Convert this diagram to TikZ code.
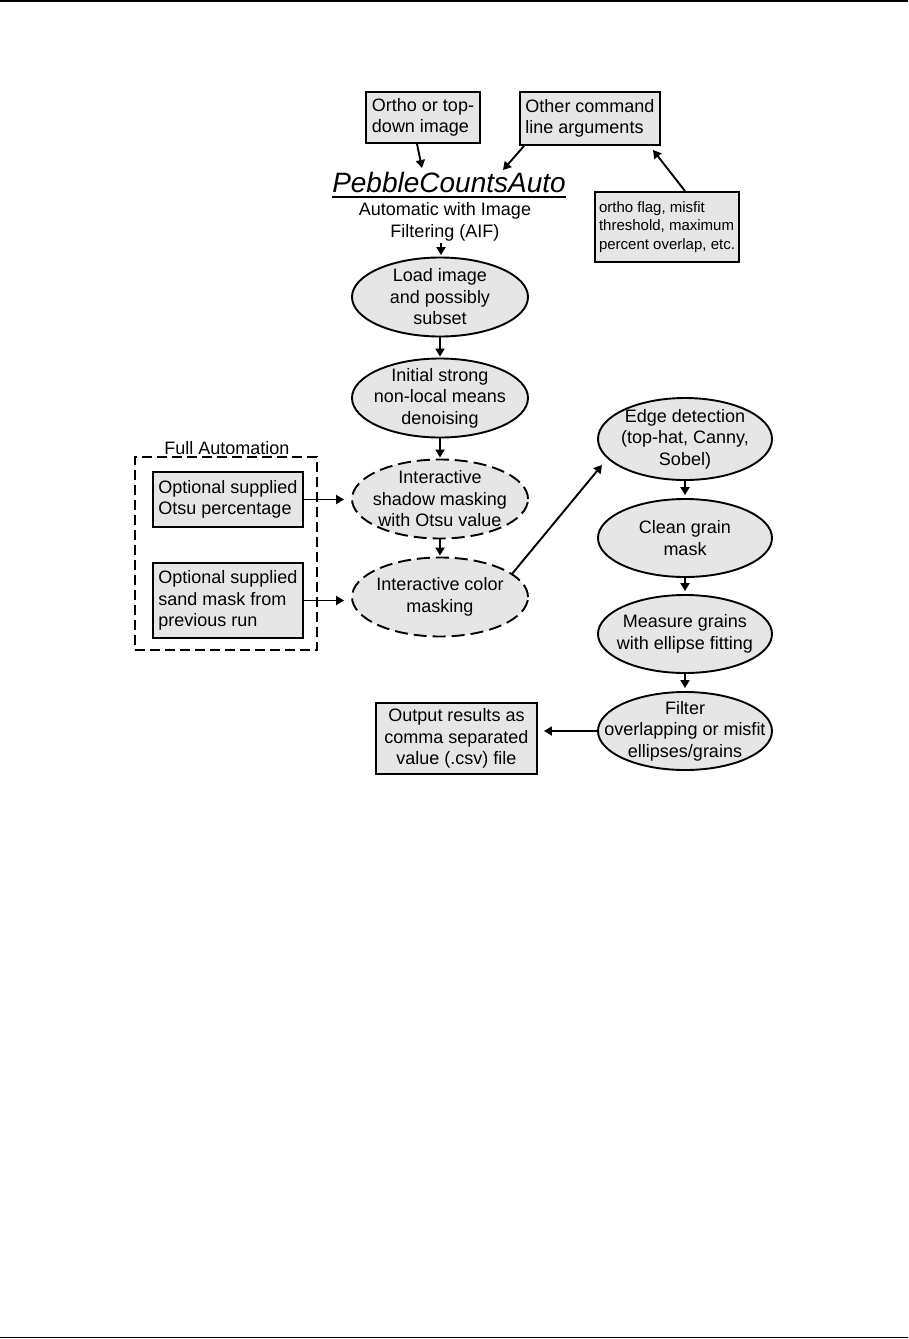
\documentclass[tikz,border=0pt]{standalone}
\usepackage{fontspec}
\setmainfont{Liberation Sans}
\usetikzlibrary{shapes.geometric,arrows.meta}
\definecolor{boxfill}{RGB}{230,230,230}
\begin{document}
\begin{tikzpicture}[x=1pt,y=-1pt,
  every node/.style={font=\fontsize{18}{21.5}\selectfont, inner sep=0pt},
  box/.style={draw, line width=1.9pt, fill=boxfill, rectangle, align=left},
  ell/.style={draw, line width=1.9pt, fill=boxfill, ellipse, minimum width=176pt, minimum height=79pt},
  rell/.style={ell, minimum width=174pt, minimum height=78pt},
  dell/.style={ell, dash pattern=on 13pt off 6pt},
  lbl/.style={align=center},
  arr/.style={line width=1.9pt, -{Triangle[length=8pt,width=9pt]}},
  rulel/.style={line width=1.5pt},
]
\useasboundingbox (0,0) rectangle (908,1339);
\draw[rulel] (0,0.75) -- (908,0.75);
\draw[rulel] (0,1337.5) -- (908,1337.5);

% top inputs
\node[box, minimum width=114pt, minimum height=51pt] (ortho) at (423,117.5) {Ortho or top-\\down image};
\node[box, minimum width=140pt, minimum height=53pt] (other) at (590,118.5) {Other command\\line arguments};
\node[box, font=\fontsize{15}{18.5}\selectfont, minimum width=144pt, minimum height=70pt] (flag) at (667,227) {ortho flag, misfit\\threshold, maximum\\percent overlap, etc.};

% title
\node[font=\fontsize{28}{30}\selectfont\itshape, anchor=base] (pca) at (449,192) {PebbleCountsAuto};
\draw[line width=1.9pt] ([yshift=-5pt]pca.base west) -- ([yshift=-5pt]pca.base east);
\node[anchor=base] (aif1) at (445,215) {Automatic with Image};
\node[anchor=base] (aif2) at (445,237) {Filtering (AIF)};

\coordinate (pcaIn1) at (422,168);
\coordinate (pcaIn2) at (503,170);
\coordinate (flagTip) at (653,150);
\coordinate (aifOut) at (441,243);
\coordinate (edgeTip) at (602,465);

% left column
\node[ell] (load) at (440,297) {};
\node[lbl] (loadt) at (load) {Load image\\and possibly\\subset};
\node[ell] (init) at (440,398) {};
\node[lbl] (initt) at (init) {Initial strong\\non-local means\\denoising};
\node[dell] (shadow) at (440,499) {};
\node[lbl] (shadowt) at (shadow) {Interactive\\shadow masking\\with Otsu value};
\node[dell] (color) at (440,597) {};
\node[lbl] (colort) at (color) {Interactive color\\masking};

% full automation group
\node[draw, line width=1.9pt, dash pattern=on 10pt off 5pt, minimum width=182pt, minimum height=193pt] (auto) at (226,553.5) {};
\node[anchor=base] (autot) at (227,454) {Full Automation};
\node[box, minimum width=150pt, minimum height=55pt] (otsu) at (228,499.5) {Optional supplied\\Otsu percentage};
\node[box, minimum width=150pt, minimum height=75pt] (sand) at (228,600.5) {Optional supplied\\sand mask from\\previous run};

% right column
\node[rell, minimum height=82pt] (edge) at (685,439) {};
\node[lbl] (edget) at (edge) {Edge detection\\(top-hat, Canny,\\Sobel)};
\node[rell] (clean) at (685,538) {};
\node[lbl] (cleant) at (clean) {Clean grain\\mask};
\node[rell] (measure) at (685,634) {};
\node[lbl] (measuret) at (measure) {Measure grains\\with ellipse fitting};
\node[rell] (filter) at (685,731) {};
\node[lbl] (filtert) at (filter) {Filter\\overlapping or misfit\\ellipses/grains};
\node[box, align=center, minimum width=161pt, minimum height=71pt] (output) at (456.5,738.5) {Output results as\\comma separated\\value (.csv) file};

% connectors
\draw[arr] ([xshift=-6pt]ortho.south) -- (pcaIn1);
\draw[arr] ([xshift=5pt]other.south west) -- (pcaIn2);
\draw[arr] ([xshift=18pt]flag.north) -- (flagTip);
\draw[arr, shorten >=1.5pt] (aifOut) -- (aifOut |- load.north);
\draw[arr, shorten >=1pt] (load) -- (init);
\draw[arr, shorten >=1pt] (init) -- (shadow);
\draw[arr, shorten >=1pt] (shadow) -- (color);
\draw[arr, shorten >=7pt] (otsu.east) -- (otsu.east -| shadow.west);
\draw[arr, shorten >=7pt] (sand.east) -- (sand.east -| color.west);
\draw[arr] (color.18) -- (edgeTip);
\draw[arr, shorten >=3pt] (edge) -- (clean);
\draw[arr, shorten >=3pt] (clean) -- (measure);
\draw[arr, shorten >=3pt] (measure) -- (filter);
\draw[arr, shorten >=6pt] (filter.west) -- (filter.west -| output.east);
\end{tikzpicture}
\end{document}
